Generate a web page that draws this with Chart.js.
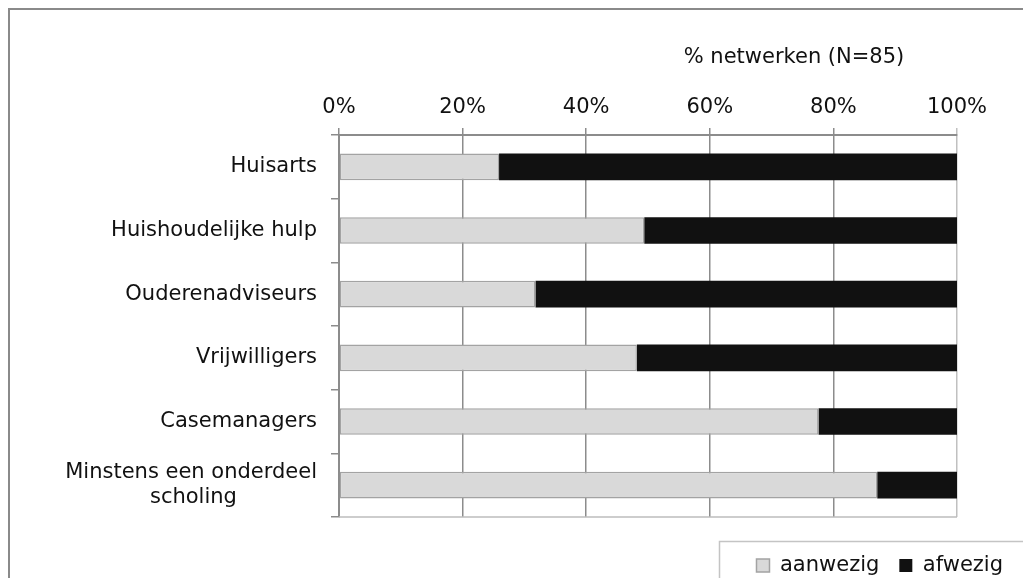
<!DOCTYPE html>
<html>
<head>
<meta charset="utf-8">
<script src="https://cdn.jsdelivr.net/npm/chart.js@4/dist/chart.umd.min.js"></script>
<style>
  html, body { margin: 0; padding: 0; background: #fff; }
  #wrap { width: 1023px; height: 578px; }
</style>
</head>
<body>
<div id="wrap"><canvas id="chart"></canvas></div>
<script>
// data (N=85)
const categories = [
    'Huisarts',
    'Huishoudelijke hulp',
    'Ouderenadviseurs',
    'Vrijwilligers',
    'Casemanagers',
    ['Minstens een onderdeel', 'scholing']
];
const aanwezig = [25.9, 49.4, 31.8, 48.2, 77.6, 87.1];
const afwezig = [74.1, 50.6, 68.2, 51.8, 22.4, 12.9];
const xTicks = [0, 20, 40, 60, 80, 100];
const axisTitle = '% netwerken (N=85)';

const FONT = '"DejaVu Sans", Verdana, sans-serif';
const FS = 21;
Chart.defaults.font.family = FONT;
Chart.defaults.font.size = FS;
Chart.defaults.color = '#111';

// centre the lines of a wrapped label while the axis right-aligns them
const measure = document.createElement('canvas').getContext('2d');
measure.font = FS + 'px ' + FONT;
const centreLines = function (lines) {
    var widths = lines.map(l => measure.measureText(l).width);
    var max = Math.max.apply(null, widths);
    var sp = measure.measureText('\u00A0').width;
    return lines.map(function (l, i) {
        var n = Math.round((max - widths[i]) / 2 / sp);
        return l + '\u00A0'.repeat(n);
    });
};

const framePlugin = {
    id: 'frame',
    beforeDraw: function (chart) {
        var ctx = chart.ctx;
        ctx.save();
        ctx.fillStyle = '#fff';
        ctx.fillRect(0, 0, chart.width, chart.height);
        // outer chart border, runs off the right and bottom edge
        ctx.strokeStyle = '#8a8a8a';
        ctx.lineWidth = 2;
        ctx.strokeRect(9, 9, 2000, 2000);
        // legend box
        ctx.strokeStyle = '#c4c4c4';
        ctx.lineWidth = 1.5;
        ctx.strokeRect(719.5, 541.5, 1000, 100);
        ctx.restore();
    },
    afterDatasetsDraw: function (chart) {
        var ctx = chart.ctx;
        var area = chart.chartArea;
        ctx.save();
        ctx.strokeStyle = '#bcbcbc';
        ctx.lineWidth = 1.5;
        ctx.beginPath();
        ctx.moveTo(area.left, area.bottom);
        ctx.lineTo(area.right, area.bottom);
        ctx.stroke();
        ctx.fillStyle = '#111';
        ctx.font = FS + 'px ' + FONT;
        ctx.textAlign = 'center';
        ctx.textBaseline = 'alphabetic';
        ctx.fillText(axisTitle, 794, 63);
        ctx.restore();
    }
};

new Chart(document.getElementById('chart'), {
    type: 'bar',
    data: {
        labels: categories,
        datasets: [{
            label: 'aanwezig',
            data: aanwezig,
            backgroundColor: '#d9d9d9',
            borderColor: '#a3a3a3',
            borderWidth: 1.5,
            borderSkipped: false,
            barPercentage: 0.42,
            categoryPercentage: 1
        }, {
            label: 'afwezig',
            data: afwezig,
            backgroundColor: '#111111',
            borderColor: '#111111',
            borderWidth: 0,
            barPercentage: 0.42,
            categoryPercentage: 1
        }]
    },
    options: {
        indexAxis: 'y',
        responsive: true,
        maintainAspectRatio: false,
        animation: false,
        events: [],
        layout: {
            padding: { left: 0, right: 0, top: 0, bottom: 0 }
        },
        scales: {
            x: {
                position: 'top',
                stacked: true,
                min: 0,
                max: 100,
                afterBuildTicks: function (scale) {
                    scale.ticks = xTicks.map(v => ({ value: v }));
                },
                afterFit: function (scale) {
                    scale.height = 135;
                },
                ticks: {
                    padding: 8,
                    color: '#111',
                    callback: v => v + '%'
                },
                grid: {
                    color: c => (c.tick && c.tick.value === 100) ? '#c0c0c0' : '#8c8c8c',
                    lineWidth: 1.5,
                    tickLength: 7
                },
                border: { color: '#8c8c8c', width: 2 }
            },
            y: {
                position: 'left',
                stacked: true,
                afterFit: function (scale) {
                    scale.width = 339;
                },
                ticks: {
                    padding: 14,
                    color: '#111',
                    callback: function (value) {
                        var lbl = this.getLabelForValue(value);
                        return Array.isArray(lbl) ? centreLines(lbl) : lbl;
                    }
                },
                grid: {
                    offset: true,
                    drawOnChartArea: false,
                    color: '#8c8c8c',
                    lineWidth: 1.5,
                    tickLength: 8
                },
                border: { color: '#8c8c8c', width: 2 }
            },
            // keeps the plot clear of the right side without shrinking the legend
            yRight: {
                position: 'right',
                display: true,
                ticks: { display: false },
                grid: { display: false },
                border: { display: false },
                afterFit: function (scale) {
                    scale.width = 66;
                }
            }
        },
        plugins: {
            tooltip: { enabled: false },
            legend: {
                position: 'bottom',
                align: 'end',
                maxHeight: 61,
                title: {
                    display: true,
                    text: '',
                    padding: 0,
                    font: { size: 15 }
                },
                labels: {
                    boxWidth: 13,
                    boxHeight: 13,
                    padding: 20,
                    color: '#111',
                    font: { size: FS }
                }
            }
        }
    },
    plugins: [framePlugin]
});
</script>
</body>
</html>
